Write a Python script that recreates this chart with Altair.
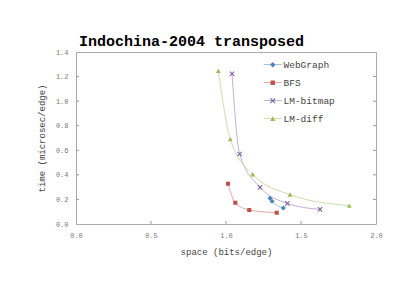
import altair as alt
import pandas as pd

series_names = ["WebGraph", "BFS", "LM-bitmap", "LM-diff"]
webgraph_x = [1.293, 1.307, 1.382]
webgraph_y = [0.209, 0.185, 0.130]
bfs_x = [1.013, 1.062, 1.155, 1.338]
bfs_y = [0.328, 0.173, 0.114, 0.092]
lmbitmap_x = [1.040, 1.091, 1.227, 1.409, 1.627]
lmbitmap_y = [1.223, 0.570, 0.298, 0.168, 0.119]
lmdiff_x = [0.949, 1.029, 1.178, 1.427, 1.822]
lmdiff_y = [1.245, 0.690, 0.404, 0.239, 0.149]

x_labels = [0, 0.5, 1.0, 1.5, 2.0]
y_labels = [0, 0.2, 0.4, 0.6, 0.8, 1.0, 1.2, 1.4]
x_ticks = [0.5, 1.0, 1.5]
y_ticks = [0.2, 0.4, 0.6, 0.8, 1.0, 1.2]

colors = ["#4F81BD", "#C0504D", "#8064A2", "#9BBB59"]
light_colors = ["#A7C0DE", "#E0A8A6", "#BFB1D0", "#CDDDAC"]

diamond = "M0,-1L1,0L0,1L-1,0Z"
square = "M-0.8,-0.8H0.8V0.8H-0.8Z"
xmark = "M-1,-0.7L-0.7,-1L0,-0.3L0.7,-1L1,-0.7L0.3,0L1,0.7L0.7,1L0,0.3L-0.7,1L-1,0.7L-0.3,0Z"
triangle = "M0,-0.9L0.95,0.8H-0.95Z"
marker_paths = [diamond, square, xmark, triangle]
legend_paths = ["M-3.3,-0.09H3.3V0.09H-3.3Z" + p for p in marker_paths]

rows = []
for name, xs, ys in [("WebGraph", webgraph_x, webgraph_y), ("BFS", bfs_x, bfs_y),
                     ("LM-bitmap", lmbitmap_x, lmbitmap_y), ("LM-diff", lmdiff_x, lmdiff_y)]:
    for xv, yv in zip(xs, ys):
        rows.append({"series": name, "space": xv, "time": yv})
df = pd.DataFrame(rows)

W, H = 300, 172
font = "Liberation Mono"

xscale = alt.Scale(domain=[0, 2], nice=False, zero=False)
yscale = alt.Scale(domain=[0, 1.4], nice=False, zero=False)

xax = alt.Axis(title="space (bits/edge)", values=x_labels, format=".1f",
               grid=False, domain=False, ticks=False, labelPadding=7, titlePadding=9,
               labelFlush=False, labelOverlap=False,
               labelFont=font, labelFontSize=7, labelColor="#777",
               titleFont=font, titleFontSize=9, titleFontWeight="normal", titleColor="#444")
yax = alt.Axis(title="time (microsec/edge)", values=y_labels, format=".1f",
               grid=False, domain=False, ticks=False, labelPadding=8, titlePadding=9,
               labelFlush=False, labelOverlap=False,
               labelFont=font, labelFontSize=7, labelColor="#777",
               titleFont=font, titleFontSize=9, titleFontWeight="normal", titleColor="#444")

base = alt.Chart(df)

lines = base.mark_line(interpolate="monotone", strokeWidth=1).encode(
    x=alt.X("space:Q", scale=xscale, axis=xax),
    y=alt.Y("time:Q", scale=yscale, axis=yax),
    color=alt.Color("series:N", scale=alt.Scale(domain=series_names, range=light_colors), legend=None),
    order="space:Q",
)

points = base.mark_point(filled=True, size=26, opacity=1).encode(
    x=alt.X("space:Q", scale=xscale, axis=xax),
    y=alt.Y("time:Q", scale=yscale, axis=yax),
    fill=alt.Fill("series:N", scale=alt.Scale(domain=series_names, range=colors), legend=None),
    shape=alt.Shape("series:N", scale=alt.Scale(domain=series_names, range=marker_paths), legend=None),
)

leg = alt.Legend(title=None, orient="none", legendX=192, legendY=8, labelFont=font,
                 labelFontSize=9.5, labelColor="#444", labelOffset=6, rowPadding=7,
                 padding=0, symbolStrokeWidth=0, symbolSize=30)

legend_layer = alt.Chart(df).transform_filter("false").mark_point(filled=True, size=30, opacity=1).encode(
    x=alt.X("space:Q", scale=xscale, axis=xax),
    y=alt.Y("time:Q", scale=yscale, axis=yax),
    fill=alt.Fill("series:N", scale=alt.Scale(domain=series_names, range=colors), legend=leg),
    shape=alt.Shape("series:N", scale=alt.Scale(domain=series_names, range=legend_paths), legend=leg),
)

xt = pd.DataFrame({"v": x_ticks})
yt = pd.DataFrame({"v": y_ticks})
tick_color = "#999"
xtick = alt.Chart(xt).mark_rule(color=tick_color, strokeWidth=1).encode(
    x=alt.X("v:Q", scale=xscale, axis=xax), y=alt.value(H - 3), y2=alt.value(H))
ytick_l = alt.Chart(yt).mark_rule(color=tick_color, strokeWidth=1).encode(
    y=alt.Y("v:Q", scale=yscale, axis=yax), x=alt.value(0), x2=alt.value(3))
ytick_r = alt.Chart(yt).mark_rule(color=tick_color, strokeWidth=1).encode(
    y=alt.Y("v:Q", scale=yscale, axis=yax), x=alt.value(W - 3), x2=alt.value(W))

chart = alt.layer(lines, xtick, ytick_l, ytick_r, points, legend_layer).resolve_scale(
    shape="independent", fill="independent"
).properties(
    width=W, height=H,
    background="white",
    autosize=alt.AutoSizeParams(type="none"),
    padding={"left": 68, "top": 44, "right": 22, "bottom": 60},
    title=alt.TitleParams("Indochina-2004 transposed", font=font, fontSize=15, fontWeight="bold",
                          anchor="start", frame="group", dx=3, offset=-1, color="black"),
).configure_view(stroke="#aaa", strokeWidth=1).configure_legend(
    labelFont=font, labelFontSize=9.5, labelColor="#444"
)

chart.save("out.html", embed_options={"renderer": "svg", "actions": False})
